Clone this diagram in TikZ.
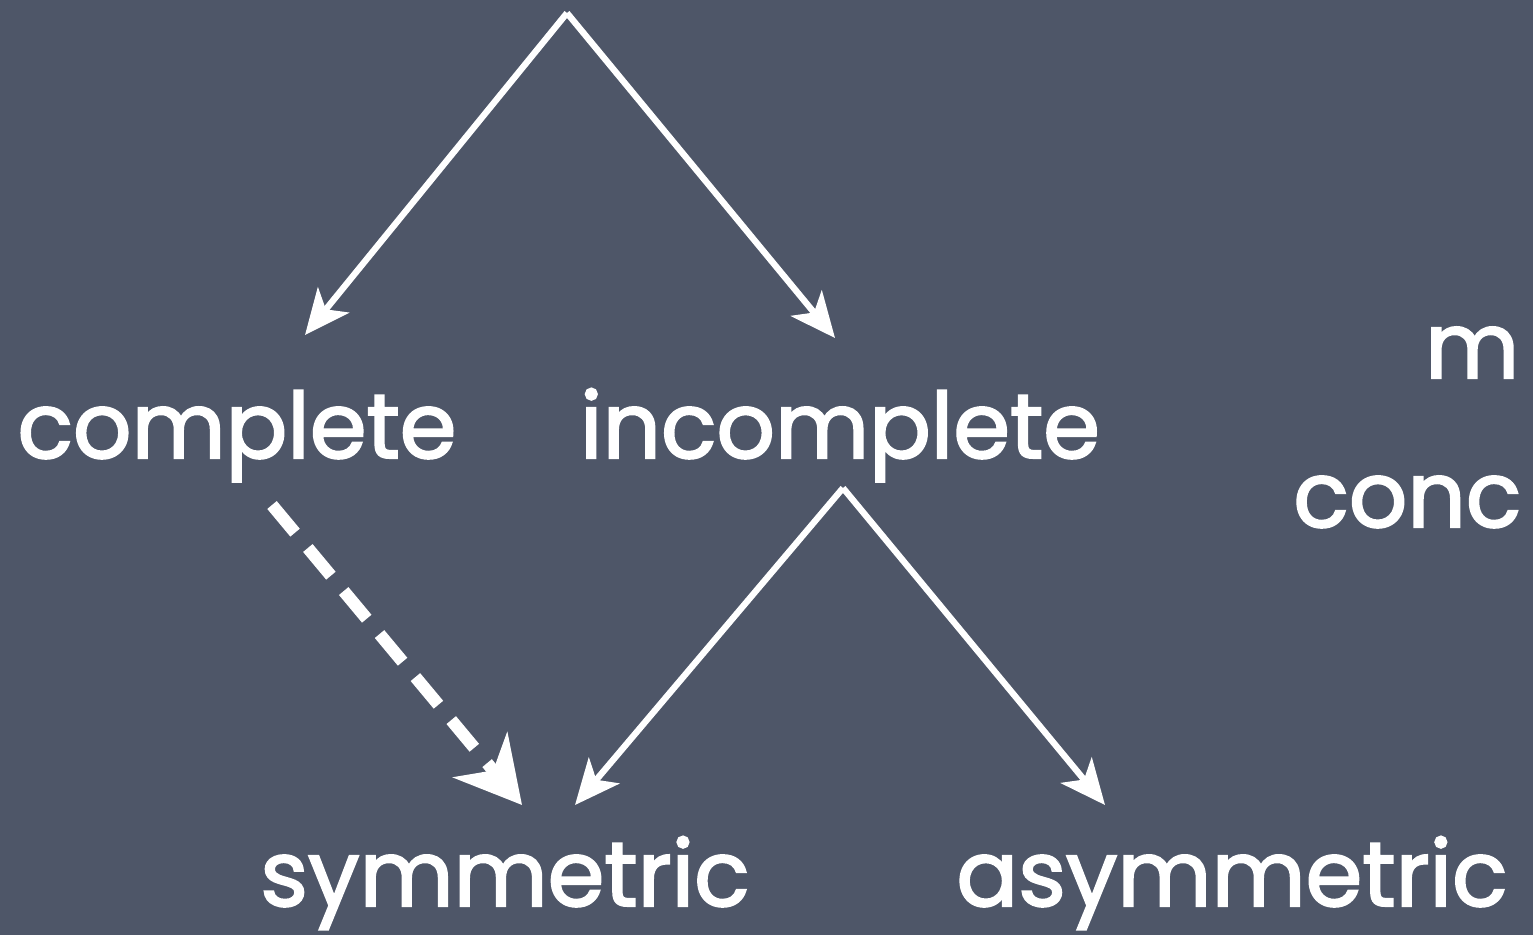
\documentclass[tikz,border=0pt]{standalone}
\usepackage{fontspec}
\newfontfamily\chalkfont{Poppins}[FakeBold=2.2]
\usetikzlibrary{arrows.meta}
\definecolor{board}{RGB}{78,86,104}
\tikzset{
  chalk/.style={draw=white,line width=1.8pt,-{Stealth[length=4.5mm,width=4mm,inset=1.2mm]}},
  word/.style={text=white,font=\chalkfont\fontsize{26}{30}\selectfont,inner sep=0pt,anchor=base},
  dashedarrow/.style={draw=white,line width=3.5pt,dash pattern=on 3.6mm off 2mm,-{Stealth[length=6.5mm,width=7mm,inset=2mm]}}
}
\begin{document}
\begin{tikzpicture}

\pgfmathsetmacro{\W}{15.33}
\pgfmathsetmacro{\H}{9.35}
\fill[board] (0,0) rectangle (\W,\H);
\useasboundingbox (0,0) rectangle (\W,\H);
\clip (0,0) rectangle (\W,\H);

\coordinate (top) at (5.67,9.22);
\node[word] (complete) at (2.37,4.77) {complete};
\node[word] (incomplete) at (8.40,4.77) {incomplete};
\node[word] (symmetric) at (5.05,0.29) {symmetric};
\node[word] (asymmetric) at (12.32,0.29) {asymmetric};
\node[word,anchor=base east] (more) at (15.20,5.57) {m};
\node[word,anchor=base east] (conc) at (15.22,4.08) {conc};

\coordinate (split) at (8.43,4.47);
\coordinate (dstart) at (2.72,4.30);

\draw[chalk] (top) -- (3.05,6.00);
\draw[chalk] (top) -- (8.35,5.97);
\draw[chalk] (split) -- (5.75,1.30);
\draw[chalk] (split) -- (11.05,1.30);
\draw[dashedarrow] (dstart) -- (5.22,1.30);

\end{tikzpicture}
\end{document}
